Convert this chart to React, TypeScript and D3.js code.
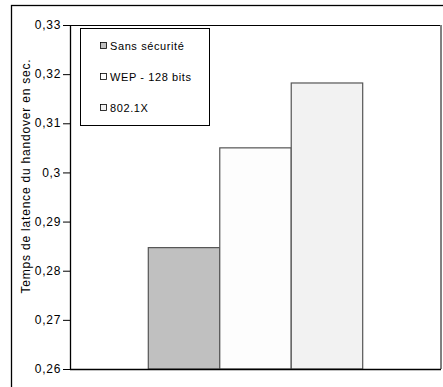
import React from "react";
import * as d3 from "d3";

const seriesNames = ["Sans sécurité", "WEP - 128 bits", "802.1X"];
const seriesValues = [0.2847, 0.305, 0.3182];
const seriesColors = ["#C0C0C0", "#FDFDFD", "#F2F2F2"];
const yTicks = [0.26, 0.27, 0.28, 0.29, 0.3, 0.31, 0.32, 0.33];
const yLabel = "Temps de latence du handover en sec.";

const W = 443;
const H = 387;
const plot = { left: 70, top: 25, right: 441, bottom: 369 };

export default function App() {
  const y = d3.scaleLinear().domain([0.26, 0.33]).range([plot.bottom, plot.top]);
  const x = d3
    .scaleBand<string>()
    .domain(seriesNames)
    .range([148.3, 362.7])
    .paddingInner(0)
    .paddingOuter(0);
  const fmt = (v: number) => String(+v.toFixed(2)).replace(".", ",");
  const font = "Arial, 'Liberation Sans', sans-serif";
  const legendY = [46, 77, 108];

  return (
    <svg
      width={W}
      height={H}
      style={{ position: "absolute", left: 0, top: 0, display: "block" }}
      fontFamily={font}
    >
      <rect x={0} y={0} width={W} height={H} fill="#fff" />
      {/* outer frame */}
      <rect x={11.5} y={5.5} width={440} height={400} fill="none" stroke="#000" strokeWidth={1.3} />
      {/* plot frame */}
      <line x1={plot.left} x2={plot.right} y1={plot.top + 0.5} y2={plot.top + 0.5} stroke="#000" strokeWidth={1} />
      <line x1={plot.right} x2={plot.right} y1={plot.top} y2={plot.bottom} stroke="#808080" strokeWidth={2} />
      {/* bars */}
      {seriesNames.map((s, i) => (
        <rect
          key={s}
          x={x(s)!}
          y={y(seriesValues[i])}
          width={x.bandwidth()}
          height={plot.bottom - y(seriesValues[i])}
          fill={seriesColors[i]}
          stroke="#555"
          strokeWidth={1.2}
        />
      ))}
      {/* axes */}
      <line x1={plot.left + 0.5} x2={plot.left + 0.5} y1={plot.top} y2={plot.bottom} stroke="#000" strokeWidth={1.3} />
      <line x1={plot.left} x2={plot.right} y1={plot.bottom + 0.5} y2={plot.bottom + 0.5} stroke="#000" strokeWidth={1.3} />
      {yTicks.map((t) => (
        <g key={t}>
          <line x1={plot.left - 7} x2={plot.left} y1={y(t) + 0.5} y2={y(t) + 0.5} stroke="#000" strokeWidth={1} />
          <text x={plot.left - 9} y={y(t)} dy="0.35em" textAnchor="end" fontSize={12} fill="#000" letterSpacing={0.7}>
            {fmt(t)}
          </text>
        </g>
      ))}
      <text
        transform={`translate(26,176) rotate(-90)`}
        textAnchor="middle"
        dy="0.35em"
        fontSize={12}
        fill="#000"
        letterSpacing={0.8}
      >
        {yLabel}
      </text>
      {/* legend */}
      <rect x={80.5} y={28.5} width={129} height={97} fill="#fff" stroke="#000" strokeWidth={1} />
      {seriesNames.map((s, i) => (
        <g key={s}>
          <rect x={100.5} y={legendY[i] - 3.5} width={6} height={6} fill={seriesColors[i]} stroke="#000" strokeWidth={0.8} />
          <text x={110} y={legendY[i]} dy="0.35em" fontSize={11} fill="#000" letterSpacing={0.6}>
            {s}
          </text>
        </g>
      ))}
    </svg>
  );
}
